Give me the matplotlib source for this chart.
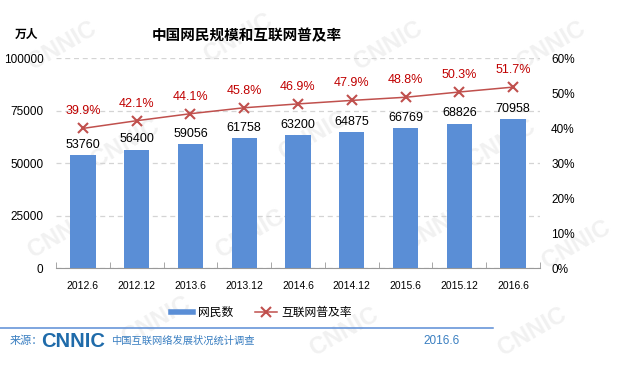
import numpy as np
import matplotlib
matplotlib.use("Agg")
import matplotlib.pyplot as plt
from matplotlib.lines import Line2D

plt.rcParams['font.family'] = ['Liberation Sans', 'Noto Sans CJK SC', 'DejaVu Sans']

periods = ["2012.6", "2012.12", "2013.6", "2013.12", "2014.6", "2014.12", "2015.6", "2015.12", "2016.6"]
netizens = [53760, 56400, 59056, 61758, 63200, 64875, 66769, 68826, 70958]
penetration = [39.9, 42.1, 44.1, 45.8, 46.9, 47.9, 48.8, 50.3, 51.7]

bar_color = "#5A8ED6"
line_color = "#C0504D"
label_red = "#C00000"
footer_blue = "#3A7FC1"

fig = plt.figure(figsize=(6.26, 3.77), dpi=100)
fig.patch.set_facecolor("white")

# faint watermark behind everything
for wx, wy in [(0.1, 0.88), (0.38, 0.9), (0.62, 0.88), (0.88, 0.88), (0.2, 0.62), (0.5, 0.64),
               (0.8, 0.62), (0.1, 0.38), (0.4, 0.38), (0.7, 0.4), (0.92, 0.35),
               (0.25, 0.15), (0.55, 0.12), (0.85, 0.12)]:
    fig.text(wx, wy, "CNNIC", fontsize=17, fontweight="bold", color="#F1F1F1",
             rotation=30, ha="center", va="center", zorder=-10)

ax = fig.add_axes([0.0895, 0.289, 0.773, 0.557])
ax.patch.set_alpha(0)
x = np.arange(len(periods))
ax.bar(x, netizens, width=0.47, color=bar_color, zorder=3)
for xi, v in zip(x, netizens):
    ax.text(xi, v + 2000, str(v), ha="center", va="bottom", fontsize=9, color="black")

ax.set_ylim(0, 100000)
ax.set_xlim(-0.5, len(periods) - 0.5)
ax.set_yticks([0, 25000, 50000, 75000, 100000])
ax.set_yticklabels(["0", "25000", "50000", "75000", "100000"], fontsize=8.5)
ax.set_xticks(x)
ax.set_xticklabels(periods, fontsize=7.5)
ax.set_xticks(np.arange(-0.5, len(periods)), minor=True)
ax.tick_params(axis="x", which="major", length=0, pad=9)
ax.tick_params(axis="x", which="minor", length=4, direction="in", color="#999999")
ax.tick_params(axis="y", length=0, pad=9)
ax.grid(axis="y", linestyle=(0, (4, 3)), color="#D4D4D4", linewidth=0.9, zorder=0)
for s in ["top", "left", "right"]:
    ax.spines[s].set_visible(False)
ax.spines["bottom"].set_color("#999999")

ax2 = ax.twinx()
ax2.plot(x, penetration, color=line_color, marker="x", markersize=6.5, markeredgewidth=1.5,
         linewidth=1.1, zorder=4)
for xi, p in zip(x, penetration):
    ax2.text(xi, p + 4.9, f"{p}%", ha="center", va="center", fontsize=9, color=label_red)
ax2.set_ylim(0, 60)
ax2.set_yticks(range(0, 61, 10))
ax2.set_yticklabels([f"{t}%" for t in range(0, 61, 10)], fontsize=8.5)
ax2.tick_params(axis="y", length=0, pad=8)
for s in ["top", "left", "right", "bottom"]:
    ax2.spines[s].set_visible(False)

fig.text(0.024, 0.907, "万人", fontsize=8.5, fontweight="bold", ha="left", va="center")
fig.text(0.395, 0.903, "中国网民规模和互联网普及率", fontsize=10.5, fontweight="bold", ha="center", va="center")

handles = [Line2D([0], [0], color=bar_color, linewidth=4, label="网民数"),
           Line2D([0], [0], color=line_color, marker="x", markersize=6.5, markeredgewidth=1.5,
                  linewidth=1.1, label="互联网普及率")]
fig.legend(handles=handles, loc="center", bbox_to_anchor=(0.418, 0.170), ncol=2, frameon=False,
           fontsize=8.5, handlelength=1.9, handletextpad=0.4, columnspacing=1.8)

fig.add_artist(Line2D([0.0, 0.787], [0.130, 0.130], color="#5B8DD6", linewidth=1.1))
fig.text(0.016, 0.095, "来源：", fontsize=8, color=footer_blue, ha="left", va="center")
fig.text(0.066, 0.093, "CNNIC", fontsize=14.5, fontweight="bold", color="#1F6BAA", ha="left", va="center")
fig.text(0.177, 0.095, "中国互联网络发展状况统计调查", fontsize=7.4, color=footer_blue, ha="left", va="center")
fig.text(0.705, 0.095, "2016.6", fontsize=8.5, color=footer_blue, ha="center", va="center")

fig.savefig("out.png", dpi=100)
